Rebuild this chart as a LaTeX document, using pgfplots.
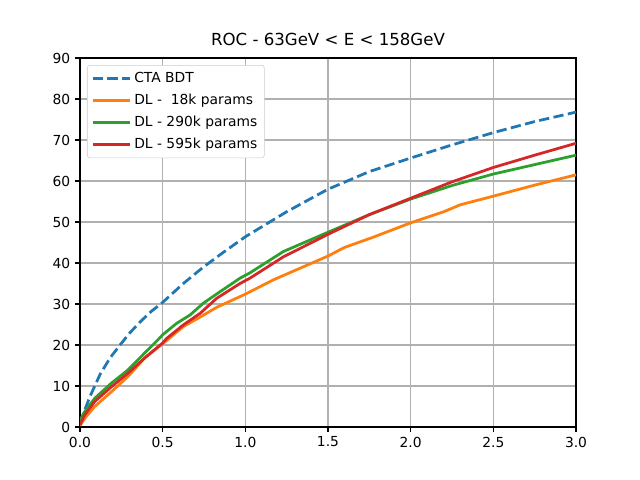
\documentclass[border=0pt]{standalone}
\usepackage{pgfplots}
\pgfplotsset{compat=1.18}
\usepackage{fontspec}
\setmainfont{DejaVu Sans}
\definecolor{c0}{HTML}{1F77B4}
\definecolor{c1}{HTML}{FF7F0E}
\definecolor{c2}{HTML}{2CA02C}
\definecolor{c3}{HTML}{D62728}
\definecolor{gridc}{HTML}{B0B0B0}
\begin{document}
\begin{tikzpicture}
\begin{axis}[
  scale only axis,
  width=4.96in, height=3.69in,
  xmin=0, xmax=3, ymin=0, ymax=90,
  xtick={0,0.5,...,3.0},
  ytick={0,10,...,90},
  xticklabel style={/pgf/number format/.cd,fixed,fixed zerofill,precision=1},
  /pgf/number format/assume math mode=true,
  tick label style={font=\fontsize{10}{12}\selectfont},
  tick align=outside, tick pos=left,
  major tick length=3.5pt,
  every tick/.style={black, line width=0.8pt},
  axis line style={line width=0.8pt},
  grid=major,
  major grid style={gridc, line width=0.8pt},
  title={ROC - 63GeV < E < 158GeV},
  title style={font=\fontsize{12}{14}\selectfont, yshift=-1pt},
  legend cell align=left,
  legend style={font=\fontsize{10}{12}\selectfont, draw=black!20, rounded corners=2pt, at={(0.014,0.981)}, anchor=north west, inner xsep=3pt, inner ysep=3pt, row sep=2.9pt},
  legend image code/.code={\draw[#1] (0cm,0cm) -- (0.95cm,0cm);},
]
\addplot[c0, line width=2pt, dash pattern=on 7.4pt off 3.2pt] coordinates {
(0,1.0)(0.012,2.4)(0.06,7.4)(0.121,12.8)(0.181,16.8)(0.242,20.0)(0.302,23.0)(0.373,26.0)(0.434,28.3)(0.5,30.4)(0.625,35.0)(0.746,39.0)(0.867,42.6)(1.0,46.4)(1.25,52.5)(1.5,58.0)(1.75,62.3)(2.0,65.6)(2.25,68.8)(2.5,71.8)(2.75,74.5)(3.0,76.8)
};
\addlegendentry{CTA BDT}
\addplot[c1, line width=2pt] coordinates {
(0,0.3)(0.028,2.1)(0.089,5.0)(0.19,8.6)(0.29,12.3)(0.39,16.8)(0.5,20.3)(0.625,24.5)(0.726,26.8)(0.827,29.2)(1.0,32.4)(1.17,35.9)(1.5,41.7)(1.6,43.8)(1.774,46.3)(2.0,49.8)(2.2,52.5)(2.3,54.2)(2.5,56.3)(2.75,59.0)(3.0,61.5)
};
\addlegendentry{DL -\ \ 18k params}
\addplot[c2, line width=2pt] coordinates {
(0,1.5)(0.028,3.7)(0.089,7.0)(0.19,10.7)(0.29,13.9)(0.39,18.0)(0.47,21.2)(0.5,22.5)(0.585,25.3)(0.665,27.3)(0.746,30.2)(0.847,33.0)(0.968,36.3)(1.028,37.6)(1.23,42.8)(1.5,47.5)(1.75,51.8)(2.0,55.6)(2.25,58.9)(2.5,61.7)(2.75,64.0)(3.0,66.3)
};
\addlegendentry{DL - 290k params}
\addplot[c3, line width=2pt] coordinates {
(0,0.5)(0.028,2.9)(0.089,6.2)(0.19,9.8)(0.29,13.1)(0.39,16.8)(0.5,20.5)(0.524,21.6)(0.625,24.9)(0.726,27.7)(0.827,31.4)(0.968,35.0)(1.028,36.3)(1.23,41.5)(1.5,47.0)(1.75,51.8)(2.0,55.8)(2.25,59.8)(2.5,63.3)(2.75,66.3)(3.0,69.2)
};
\addlegendentry{DL - 595k params}
\end{axis}
\path (current axis.south west) ++(-0.8in,-0.53in) rectangle ++(6.4in,4.8in);
\end{tikzpicture}
\end{document}
